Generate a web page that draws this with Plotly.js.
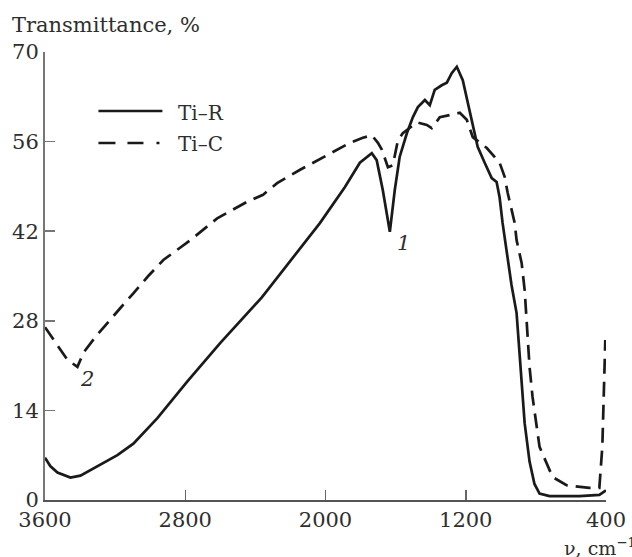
<!DOCTYPE html>
<html><head><meta charset="utf-8">
<script src="https://cdn.plot.ly/plotly-3.0.1.min.js"></script>
<style>html,body{margin:0;padding:0;background:#fff}#chart{width:632px;height:557px}</style>
</head><body><div id="chart"></div>
<script>
// Ti-R (solid)
const tiR_wn = [3600,3570,3529,3455,3398,3301,3187,3096,2959,2789,2601,2362,2202,2031,1889,1804,1736,1708,1673,1633,1605,1577,1536,1502,1473,1433,1405,1377,1337,1308,1280,1251,1217,1189,1160,1132,1092,1052,1024,1007,990,967,939,910,887,864,836,808,779,722,551,438,400];
const tiR_T  = [6.6,5.3,4.3,3.5,3.8,5.3,7.0,8.8,12.8,18.5,24.5,31.7,37.3,43.3,48.9,52.7,54.2,53.1,48.4,41.9,48.4,53.6,57.3,59.8,61.4,62.5,61.7,64.1,64.8,65.2,66.7,67.7,65.6,62.0,58.3,55.2,52.7,50.3,49.7,47.3,43.3,39.0,33.6,29.2,20.0,12.0,6.0,2.5,1.0,0.6,0.6,0.8,1.5];
// Ti-C (dashed)
const tiC_wn = [3600,3529,3472,3415,3381,3312,3244,3170,3096,3011,2925,2771,2618,2447,2356,2276,2145,1992,1861,1787,1736,1701,1678,1644,1616,1587,1559,1479,1422,1394,1348,1234,1194,1160,1120,1080,1007,978,961,921,910,881,864,853,836,819,779,705,625,495,438,421,410,404];
const tiC_T  = [27.0,24.2,21.9,20.8,23.0,25.5,27.7,30.0,32.3,35.0,37.5,40.6,44.0,46.6,47.7,49.5,51.6,53.9,55.8,56.6,57.0,55.8,54.7,52.0,52.3,56.2,57.3,59.0,58.6,58.1,59.8,60.5,59.4,56.7,55.8,55.0,52.7,50.5,48.0,43.3,40.6,37.0,32.8,28.1,20.8,16.1,8.3,3.6,2.3,1.9,1.9,8.3,18.75,25.0];
const xTicks = [3600,2800,2000,1200,400];
const yTicks = [0,14,28,42,56,70];
const names = ['Ti\u2013R','Ti\u2013C'];

const serif = 'DejaVu Serif, serif';
const txt = '#2e2e2e';
const lineCol = '#1a1a1a';
const L = 44.5, W = 561.5, B = 500, H = 448;
const px = x => (x - L) / W, py = y => (B - y) / H;
const traces = [
  {x: tiR_wn, y: tiR_T, mode:'lines', name:names[0], line:{color:lineCol, width:2.7}},
  {x: tiC_wn, y: tiC_T, mode:'lines', name:names[1], line:{color:lineCol, width:2.7, dash:'15px,8px'}}
];
const layout = {
  width:632, height:557,
  margin:{l:L, r:632-L-W, t:B-H, b:557-B},
  showlegend:false,
  paper_bgcolor:'#fff', plot_bgcolor:'#fff',
  font:{family:serif, color:txt, size:21},
  xaxis:{range:[3600,400], tickvals:xTicks, ticktext:xTicks.map(String), ticks:'inside', ticklen:10, tickwidth:1.5, tickcolor:'#666',
         showline:true, linecolor:'#555', linewidth:2, showgrid:false, zeroline:false, tickfont:{size:21, family:serif, color:txt}},
  yaxis:{range:[0,70], tickvals:yTicks, ticks:'inside', ticklen:10, tickwidth:1.5, tickcolor:'#777',
         showline:true, linecolor:'#777', linewidth:2, showgrid:false, zeroline:false, tickfont:{size:21, family:serif, color:txt}},
  shapes:[
    {type:'line', xref:'paper', yref:'paper', x0:px(98), x1:px(162), y0:py(111), y1:py(111), line:{color:lineCol, width:2.7}},
    {type:'line', xref:'paper', yref:'paper', x0:px(98), x1:px(162), y0:py(143), y1:py(143), line:{color:lineCol, width:2.7, dash:'17px,12px,16px,13px,3px,30px'}}
  ],
  annotations:[
    {text:'Transmittance, %', xref:'paper', yref:'paper', x:px(9), y:py(25), xanchor:'left', yanchor:'middle', showarrow:false, font:{size:21, family:serif, color:txt}},
    {text:names[0], xref:'paper', yref:'paper', x:px(176), y:py(113), xanchor:'left', yanchor:'middle', showarrow:false, font:{size:20, family:serif, color:txt}},
    {text:names[1], xref:'paper', yref:'paper', x:px(176), y:py(144), xanchor:'left', yanchor:'middle', showarrow:false, font:{size:20, family:serif, color:txt}},
    {text:'<i>1</i>', x:1553, y:40.2, xanchor:'center', yanchor:'middle', showarrow:false, font:{size:21, family:serif, color:txt}},
    {text:'<i>2</i>', x:3358, y:18.9, xanchor:'center', yanchor:'middle', showarrow:false, font:{size:21, family:serif, color:txt}},
    {text:'\u03bd, cm<sup>\u22121</sup>', xref:'paper', yref:'paper', x:px(638), y:py(547), xanchor:'right', yanchor:'middle', showarrow:false, font:{size:19, family:serif, color:txt}}
  ]
};
Plotly.newPlot('chart', traces, layout, {staticPlot:true, displayModeBar:false});
</script></body></html>
